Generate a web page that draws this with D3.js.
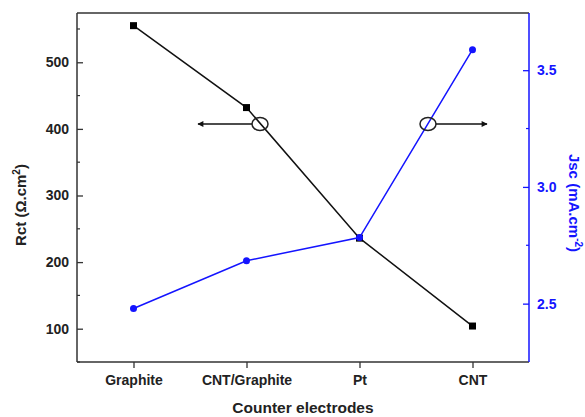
<!DOCTYPE html>
<html><head><meta charset="utf-8">
<script src="https://cdn.jsdelivr.net/npm/d3@7"></script>
<style>body{margin:0;background:#fff}svg{display:block}text{font-family:"Liberation Sans",Arial,sans-serif;font-weight:bold}</style>
</head><body><svg id="c" width="585" height="417"></svg>
<script>
const categories = ["Graphite", "CNT/Graphite", "Pt", "CNT"];
const rctValues = [555, 432, 236, 104];
const jscValues = [2.479, 2.684, 2.783, 3.588];
const rctTicks = [100, 200, 300, 400, 500];
const jscTicks = [2.5, 3.0, 3.5];

const svg = d3.select("#c");
const L = 77, R = 529, T = 13, B = 362;
const blue = "#1414ff";

const x = d3.scalePoint().domain(categories).range([L, R]).padding(0.5);
const yL = d3.scaleLinear().domain([50, 574]).range([B, T]);
const yR = d3.scaleLinear().domain([2.25, 3.745]).range([B, T]);

// frame top
svg.append("line").attr("x1", L).attr("x2", R).attr("y1", T).attr("y2", T).attr("stroke", "#333").attr("stroke-width", 1.5);

// bottom axis
const gx = svg.append("g").attr("transform", `translate(0,${B})`)
  .call(d3.axisBottom(x).tickSize(6).tickSizeOuter(0).tickPadding(7));
gx.select(".domain").attr("stroke", "#333").attr("stroke-width", 1.5).attr("d", `M${L},0H${R}`);
gx.selectAll(".tick line").attr("stroke", "#333").attr("stroke-width", 1.3);
gx.selectAll(".tick text").attr("font-size", 14).attr("fill", "#222");

// left axis
const gl = svg.append("g").attr("transform", `translate(${L},0)`)
  .call(d3.axisLeft(yL).tickValues(rctTicks).tickSize(-6).tickSizeOuter(0).tickPadding(8));
gl.select(".domain").attr("stroke", "#333").attr("stroke-width", 1.5).attr("d", `M0,${T}V${B}`);
gl.selectAll(".tick line").attr("stroke", "#333").attr("stroke-width", 1.3);
gl.selectAll(".tick text").attr("font-size", 14).attr("fill", "#222");
const minorL = d3.range(50, 574, 50).filter(v => v % 100 !== 0);
svg.append("g").selectAll("line").data(minorL).join("line")
  .attr("x1", L).attr("x2", L + 3).attr("y1", d => yL(d)).attr("y2", d => yL(d))
  .attr("stroke", "#333").attr("stroke-width", 1.2);

// right axis
const gr = svg.append("g").attr("transform", `translate(${R},0)`)
  .call(d3.axisRight(yR).tickValues(jscTicks).tickFormat(d3.format(".1f")).tickSize(-6).tickSizeOuter(0).tickPadding(8));
gr.select(".domain").attr("stroke", blue).attr("stroke-width", 1.5).attr("d", `M0,${T}V${B}`);
gr.selectAll(".tick line").attr("stroke", blue).attr("stroke-width", 1.3);
gr.selectAll(".tick text").attr("font-size", 14).attr("fill", blue);
const minorR = [2.75, 3.25];
svg.append("g").selectAll("line").data(minorR).join("line")
  .attr("x1", R).attr("x2", R - 3).attr("y1", d => yR(d)).attr("y2", d => yR(d))
  .attr("stroke", blue).attr("stroke-width", 1.2);

// Rct line
const rctData = categories.map((c, i) => ({c, v: rctValues[i]}));
svg.append("path").datum(rctData)
  .attr("d", d3.line().x(d => x(d.c)).y(d => yL(d.v)))
  .attr("fill", "none").attr("stroke", "#111").attr("stroke-width", 1.5);
svg.append("g").selectAll("rect").data(rctData).join("rect")
  .attr("x", d => x(d.c) - 3.5).attr("y", d => yL(d.v) - 3.5).attr("width", 7).attr("height", 7).attr("fill", "#000");

// Jsc line
const jscData = categories.map((c, i) => ({c, v: jscValues[i]}));
svg.append("path").datum(jscData)
  .attr("d", d3.line().x(d => x(d.c)).y(d => yR(d.v)))
  .attr("fill", "none").attr("stroke", blue).attr("stroke-width", 1.5);
svg.append("g").selectAll("circle").data(jscData).join("circle")
  .attr("cx", d => x(d.c)).attr("cy", d => yR(d.v)).attr("r", 3.5).attr("fill", blue);

// annotations (arrows + ellipses)
const defs = svg.append("defs");
defs.append("marker").attr("id", "ah").attr("viewBox", "0 0 10 10").attr("refX", 9).attr("refY", 5)
  .attr("markerWidth", 8).attr("markerHeight", 6).attr("markerUnits", "userSpaceOnUse").attr("orient", "auto")
  .append("path").attr("d", "M0,0L10,5L0,10Z").attr("fill", "#111");
const annY = 124;
const ann = [{cx: 260, x2: 198}, {cx: 428, x2: 487}];
ann.forEach(a => {
  const sx = a.x2 < a.cx ? a.cx - 8 : a.cx + 8;
  svg.append("line").attr("x1", sx).attr("y1", annY).attr("x2", a.x2).attr("y2", annY)
    .attr("stroke", "#111").attr("stroke-width", 1.5).attr("marker-end", "url(#ah)");
  svg.append("ellipse").attr("cx", a.cx).attr("cy", annY).attr("rx", 8).attr("ry", 6.5)
    .attr("fill", "none").attr("stroke", "#222").attr("stroke-width", 1.5);
});

// titles
svg.append("text").attr("x", (L + R) / 2).attr("y", 413).attr("text-anchor", "middle")
  .attr("font-size", 15.5).attr("fill", "#222").text("Counter electrodes");
const lt = svg.append("text").attr("transform", `translate(26,205) rotate(-90)`)
  .attr("text-anchor", "middle").attr("font-size", 15).attr("fill", "#222");
lt.append("tspan").text("Rct (Ω.cm");
lt.append("tspan").attr("font-size", 10).attr("dy", -6).text("2");
lt.append("tspan").attr("dy", 6).text(")");
const rt = svg.append("text").attr("transform", `translate(569,203) rotate(90)`)
  .attr("text-anchor", "middle").attr("font-size", 15).attr("fill", blue);
rt.append("tspan").text("Jsc (mA.cm");
rt.append("tspan").attr("font-size", 10).attr("dy", -6).text("-2");
rt.append("tspan").attr("dy", 6).text(")");
</script></body></html>
